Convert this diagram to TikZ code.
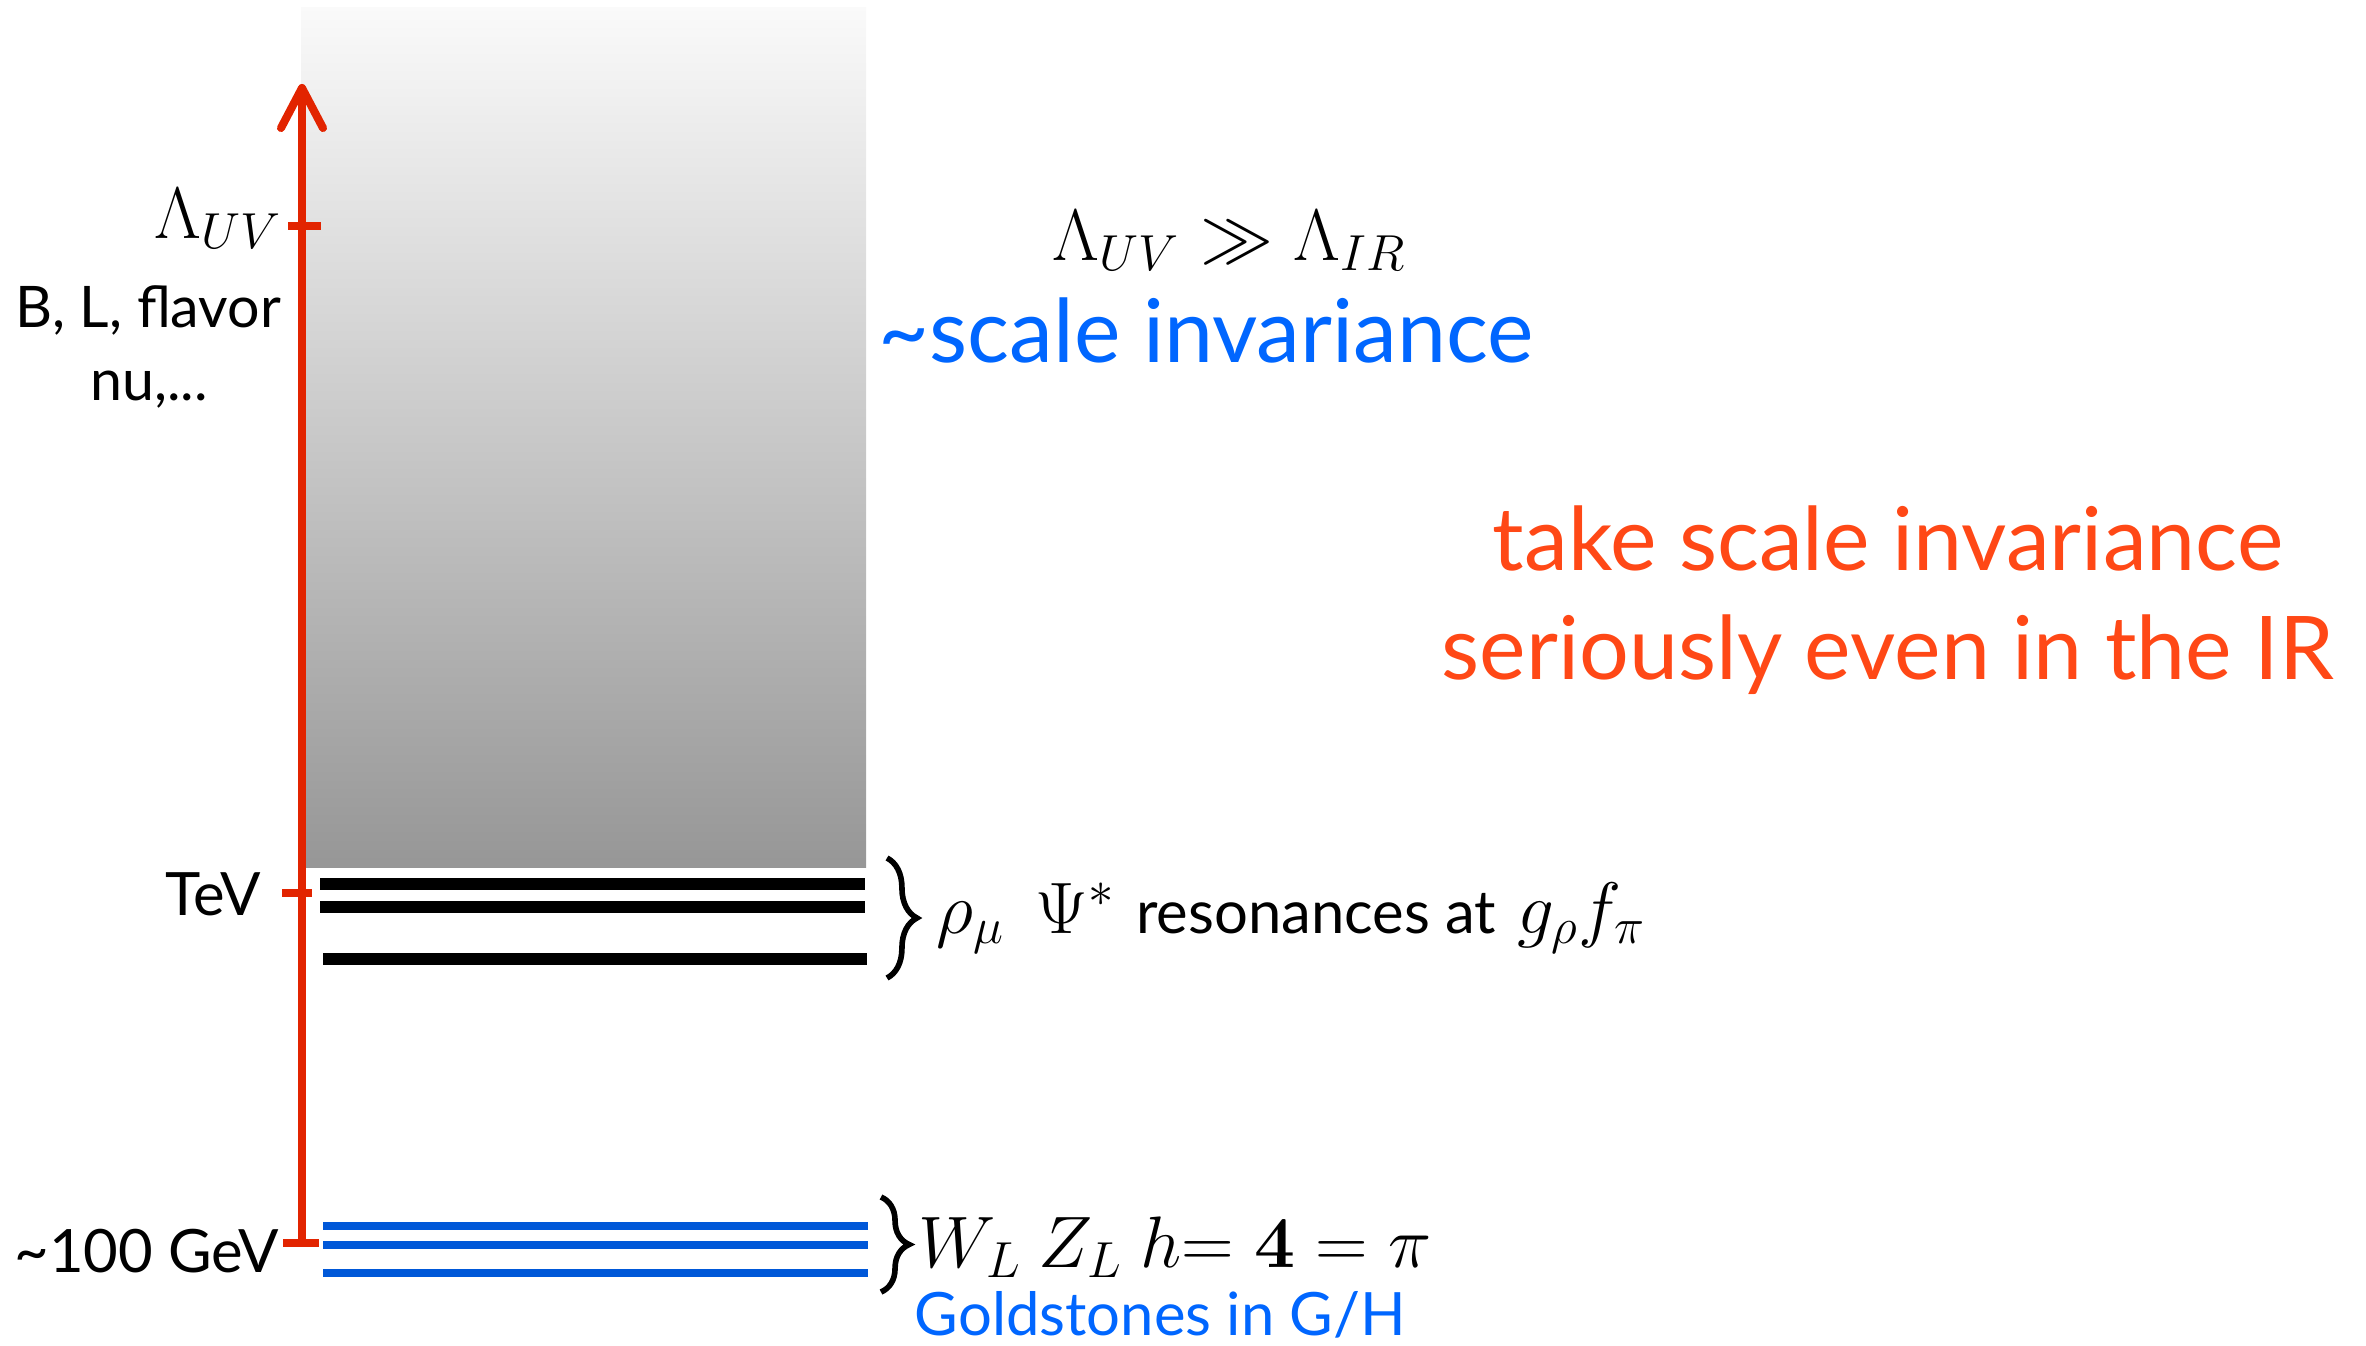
\documentclass[tikz,border=0pt]{standalone}
\usepackage[no-math]{fontspec}
\setmainfont{Lato}
\usetikzlibrary{decorations.pathreplacing}
\definecolor{axisred}{RGB}{226,36,0}
\definecolor{hotorange}{RGB}{255,72,22}
\definecolor{textblue}{RGB}{0,102,255}
\definecolor{lineblue}{RGB}{0,88,216}
\tikzset{
  axisline/.style={draw=axisred, line width=2.3pt},
  tickline/.style={draw=axisred, line width=2.3pt},
  reslevel/.style={draw=black, line width=3.2pt},
  gslevel/.style={draw=lineblue, line width=2.5pt},
  bracestyle/.style={draw=black, line width=1.6pt, decorate, decoration={brace, amplitude=#1}},
  sidelabel/.style={inner sep=0pt, font=\fontsize{17}{20}\selectfont},
  mathlabel/.style={inner sep=0pt, font=\fontsize{20.5}{24}\selectfont},
  bigtext/.style={inner sep=0pt, font=\fontsize{25}{30}\selectfont},
}
\begin{document}
\begin{tikzpicture}[x=0.01cm, y=-0.01cm]
\useasboundingbox (0,0) rectangle (2366,1345);
% gradient column
\shade[top color=white!98!black, bottom color=black!41] (301,7) rectangle (866,867);
% energy axis
\coordinate (axbot) at (302,1243);
\coordinate (axtop) at (302,88);
\draw[axisline] (axbot) -- (axtop);
\draw[axisline, line join=round, line cap=round] (axtop) ++(-21,40) -- (axtop) -- ++(21,40);
% ticks
\coordinate (uvL) at (288,226); \coordinate (uvR) at (321,226);
\coordinate (tevL) at (282,893); \coordinate (tevR) at (312,893);
\coordinate (gevL) at (283,1243); \coordinate (gevR) at (319,1243);
\draw[tickline] (uvL) -- (uvR);
\draw[tickline] (tevL) -- (tevR);
\draw[tickline] (gevL) -- (gevR);
% resonance levels
\coordinate (r1a) at (320,884); \coordinate (r1b) at (865,884);
\coordinate (r2a) at (320,907); \coordinate (r2b) at (865,907);
\coordinate (r3a) at (323,959); \coordinate (r3b) at (867,959);
\draw[reslevel] (r1a) -- (r1b);
\draw[reslevel] (r2a) -- (r2b);
\draw[reslevel] (r3a) -- (r3b);
% goldstone levels
\coordinate (g1a) at (323,1226); \coordinate (g1b) at (868,1226);
\coordinate (g2a) at (323,1245); \coordinate (g2b) at (868,1245);
\coordinate (g3a) at (323,1273); \coordinate (g3b) at (868,1273);
\draw[gslevel] (g1a) -- (g1b);
\draw[gslevel] (g2a) -- (g2b);
\draw[gslevel] (g3a) -- (g3b);
% braces
\coordinate (b1t) at (887,858); \coordinate (b1b) at (887,978);
\coordinate (b2t) at (881,1197); \coordinate (b2b) at (881,1292);
\draw[bracestyle=8.5pt] (b1t) -- (b1b);
\draw[bracestyle=8pt] (b2t) -- (b2b);
% left labels
\node[mathlabel, anchor=base east] (lamuv) at (283,238) {$\Lambda_{UV}$};
\node[sidelabel, anchor=base, font=\fontsize{16.3}{20}\selectfont] (blf) at (148,327) {B, L, flavor};
\node[sidelabel, anchor=base, font=\fontsize{16.3}{20}\selectfont] (nu) at (149,400) {nu,...};
\node[sidelabel, anchor=base east] (tev) at (262,915) {TeV};
\node[sidelabel, anchor=base east] (gev) at (280,1272) {\char"007E 100 GeV};
% right labels
\node[mathlabel, anchor=base west] (res) at (936,933) {$\rho_\mu\ \,\Psi^*$\hspace{6pt}{\fontsize{17}{20}\selectfont resonances at}\hspace{6pt}$g_\rho f_\pi$};
\node[mathlabel, anchor=base west, font=\fontsize{19.2}{24}\selectfont] (wz) at (918,1267) {$W_L\ Z_L\ h\mkern-5mu=\mathbf{4}=\pi$};
\node[sidelabel, anchor=base west, text=textblue] (gold) at (914,1335) {Goldstones in G/H};
\node[mathlabel, anchor=base west, font=\fontsize{19.6}{24}\selectfont] (ratio) at (1052,260) {$\Lambda_{UV}\gg\Lambda_{IR}$};
\node[bigtext, anchor=base west, text=textblue] (scinv) at (878,362) {\char"007E scale invariance};
\node[bigtext, anchor=base, text=hotorange] (take1) at (1888,570) {take scale invariance};
\node[bigtext, anchor=base, text=hotorange] (take2) at (1888,679) {seriously even in the IR};
\end{tikzpicture}
\end{document}
